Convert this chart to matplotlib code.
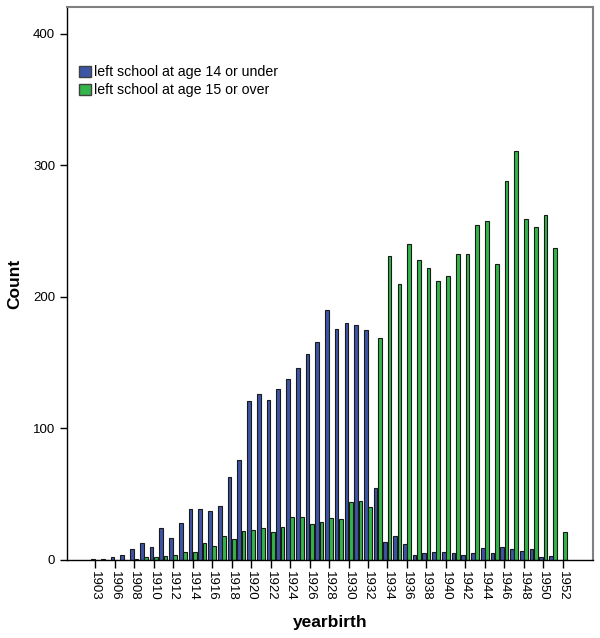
import matplotlib
matplotlib.use("Agg")
import matplotlib.pyplot as plt
import numpy as np
from matplotlib.patches import Patch

plt.rcParams['font.family'] = ['Liberation Sans', 'DejaVu Sans']

years = [1903, 1905] + list(range(1906, 1953))
under14 = [1, 1, 2, 4, 8, 13, 10, 24, 17, 28, 39, 39, 37, 41, 63, 76,
           121, 126, 122, 130, 138, 146, 157, 166, 190, 176, 180, 179, 175, 55,
           14, 18, 12, 4, 5, 6, 6, 5, 4, 5, 9, 5, 10, 8, 7, 8, 2, 3, 0]
over15 = [0, 0, 0, 0, 1, 2, 2, 3, 4, 6, 6, 13, 11, 18, 16, 22,
          23, 24, 21, 25, 33, 33, 27, 29, 32, 31, 44, 45, 40, 169,
          231, 210, 240, 228, 222, 212, 216, 233, 233, 255, 258, 225, 288, 311,
          259, 253, 262, 237, 21]
tick_labels = [str(y) for y in years]

blue = '#3D55A6'
green = '#33B54A'

fig = plt.figure(figsize=(6.0, 6.38), dpi=100)
ax = fig.add_axes([67/600, 1-560/638, (593-67)/600, (560-7)/638])

x = np.arange(len(years))
w = 0.38
ax.bar(x - 0.22, under14, width=w, color=blue, edgecolor='#1a1a1a', linewidth=0.8)
ax.bar(x + 0.22, over15, width=w, color=green, edgecolor='#1a1a1a', linewidth=0.8)

ax.set_xlim(-2.9, len(years) - 1 + 3.1)
ax.set_ylim(0, 420.5)
ax.set_yticks([0, 100, 200, 300, 400])
ax.set_xticks(x[::2])
ax.set_xticklabels(tick_labels[::2], rotation=-90, fontsize=9.5)
ax.tick_params(axis='y', labelsize=9.5, length=5, width=1, direction='out')
ax.tick_params(axis='x', length=6, width=1, direction='out', pad=2)

for s in ['left', 'bottom']:
    ax.spines[s].set_color('black')
    ax.spines[s].set_linewidth(1)
for s in ['top', 'right']:
    ax.spines[s].set_color('#808080')
    ax.spines[s].set_linewidth(1.5)

ax.set_ylabel('Count', fontsize=12.5, fontweight='bold', labelpad=8)
ax.set_xlabel('yearbirth', fontsize=12.5, fontweight='bold', labelpad=10)

handles = [Patch(facecolor=blue, edgecolor='#404040', label='left school at age 14 or under'),
           Patch(facecolor=green, edgecolor='#404040', label='left school at age 15 or over')]
ax.legend(handles=handles, loc='upper left', bbox_to_anchor=(0.012, 0.905), frameon=False,
          fontsize=10.2, handlelength=0.85, handleheight=0.85, handletextpad=0.2,
          labelspacing=0.3, borderaxespad=0)

fig.savefig('out.png', dpi=100)
